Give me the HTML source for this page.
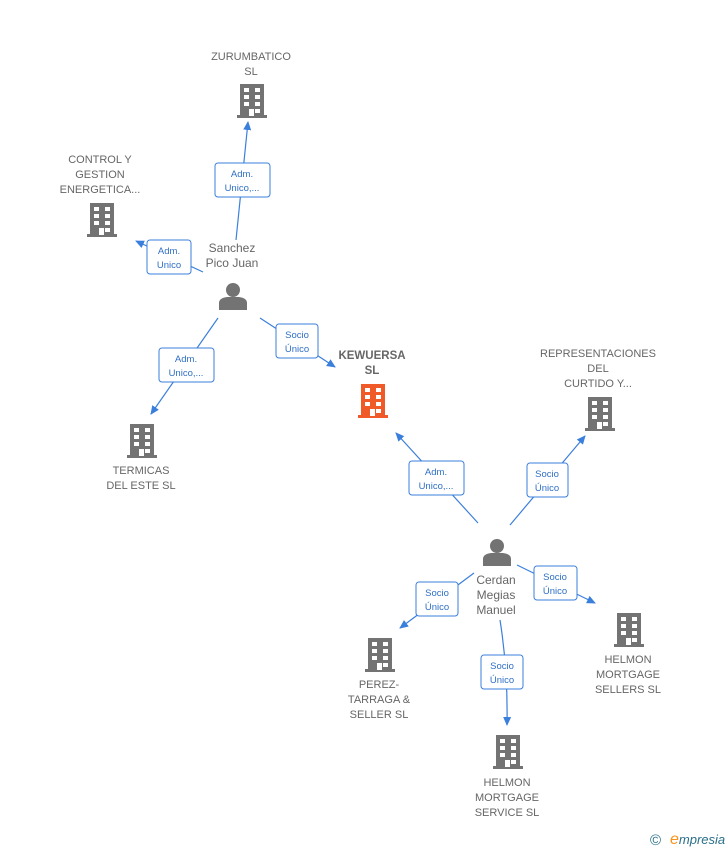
<!DOCTYPE html>
<html><head><meta charset="utf-8"><style>
html,body{margin:0;padding:0;background:#fff;}
svg{display:block;font-family:"Liberation Sans",Arial,sans-serif;}
.n{font-size:11px;fill:#666;text-anchor:middle;}
.nb{font-size:11.5px;fill:#666;text-anchor:middle;font-weight:bold;}
.p{font-size:12px;fill:#666;text-anchor:middle;}
.l{font-size:9.5px;fill:#2f6fc6;text-anchor:middle;}
.e{stroke:#3a7fdc;stroke-width:1.2;fill:none;marker-end:url(#a);}
.b{fill:#fff;stroke:#3a7fdc;stroke-width:1;}
</style></head><body>
<svg width="728" height="850" viewBox="0 0 728 850">
<defs>
<marker id="a" markerWidth="10" markerHeight="10" refX="8" refY="5" orient="auto" markerUnits="userSpaceOnUse"><path d="M0,1 L9,5 L0,9 Z" fill="#3a7fdc"/></marker>
<g id="bld"><rect x="-12" y="-17" width="24" height="32"/><rect x="-15" y="14" width="30" height="3"/>
<g fill="#fff"><rect x="-8" y="-13" width="5" height="4"/><rect x="3" y="-13" width="5" height="4"/><rect x="-8" y="-6" width="5" height="4"/><rect x="3" y="-6" width="5" height="4"/><rect x="-8" y="1" width="5" height="4"/><rect x="3" y="1" width="5" height="4"/><rect x="-3" y="8" width="5" height="7"/><rect x="3" y="8" width="5" height="4"/></g></g>
<g id="per"><circle cx="0" cy="-7" r="7"/><path d="M-14,13 L-14,6 Q-14,1 -6,0 L6,0 Q14,1 14,6 L14,13 Z"/></g>
</defs>
<!-- edges -->
<path class="e" d="M236,240 L248,122"/>
<path class="e" d="M203,272 L136,241"/>
<path class="e" d="M218,318 L151,414"/>
<path class="e" d="M260,318 L335,367"/>
<path class="e" d="M478,523 L396,433"/>
<path class="e" d="M510,525 L585,436"/>
<path class="e" d="M474,573 L400,628"/>
<path class="e" d="M500,620 Q508,670 507,725"/>
<path class="e" d="M517,565 L595,603"/>
<!-- labels -->
<rect class="b" x="215" y="163" width="55" height="34" rx="3"/><text class="l" x="242" y="177">Adm.</text><text class="l" x="242" y="191">Unico,...</text>
<rect class="b" x="147" y="240" width="44" height="34" rx="3"/><text class="l" x="169" y="254">Adm.</text><text class="l" x="169" y="268">Unico</text>
<rect class="b" x="159" y="348" width="55" height="34" rx="3"/><text class="l" x="186" y="362">Adm.</text><text class="l" x="186" y="376">Unico,...</text>
<rect class="b" x="276" y="324" width="42" height="34" rx="3"/><text class="l" x="297" y="338">Socio</text><text class="l" x="297" y="352">Único</text>
<rect class="b" x="409" y="461" width="55" height="34" rx="3"/><text class="l" x="436" y="475">Adm.</text><text class="l" x="436" y="489">Unico,...</text>
<rect class="b" x="527" y="463" width="41" height="34" rx="3"/><text class="l" x="547" y="477">Socio</text><text class="l" x="547" y="491">Único</text>
<rect class="b" x="416" y="582" width="42" height="34" rx="3"/><text class="l" x="437" y="596">Socio</text><text class="l" x="437" y="610">Único</text>
<rect class="b" x="481" y="655" width="42" height="34" rx="3"/><text class="l" x="502" y="669">Socio</text><text class="l" x="502" y="683">Único</text>
<rect class="b" x="534" y="566" width="43" height="34" rx="3"/><text class="l" x="555" y="580">Socio</text><text class="l" x="555" y="594">Único</text>
<!-- nodes -->
<g fill="#737373">
<use href="#bld" x="252" y="101"/><use href="#bld" x="102" y="220"/><use href="#bld" x="142" y="441"/>
<use href="#bld" x="600" y="414"/><use href="#bld" x="380" y="655"/><use href="#bld" x="508" y="752"/><use href="#bld" x="629" y="630"/>
<use href="#per" x="233" y="297"/><use href="#per" x="497" y="553"/>
</g>
<use href="#bld" x="373" y="401" fill="#f05a28"/>
<text class="n" x="251" y="60">ZURUMBATICO</text><text class="n" x="251" y="75">SL</text>
<text class="n" x="100" y="163">CONTROL Y</text><text class="n" x="100" y="178">GESTION</text><text class="n" x="100" y="193">ENERGETICA...</text>
<text class="n" x="141" y="474">TERMICAS</text><text class="n" x="141" y="489">DEL ESTE SL</text>
<text class="nb" x="372" y="359">KEWUERSA</text><text class="nb" x="372" y="374">SL</text>
<text class="n" x="598" y="357">REPRESENTACIONES</text><text class="n" x="598" y="372">DEL</text><text class="n" x="598" y="387">CURTIDO Y...</text>
<text class="n" x="379" y="688">PEREZ-</text><text class="n" x="379" y="703">TARRAGA &amp;</text><text class="n" x="379" y="718">SELLER  SL</text>
<text class="n" x="507" y="786">HELMON</text><text class="n" x="507" y="801">MORTGAGE</text><text class="n" x="507" y="816">SERVICE  SL</text>
<text class="n" x="628" y="663">HELMON</text><text class="n" x="628" y="678">MORTGAGE</text><text class="n" x="628" y="693">SELLERS  SL</text>
<text class="p" x="232" y="252">Sanchez</text><text class="p" x="232" y="267">Pico Juan</text>
<text class="p" x="496" y="584">Cerdan</text><text class="p" x="496" y="599">Megias</text><text class="p" x="496" y="614">Manuel</text>
<text x="650" y="845" font-size="15" fill="#2a6f8a">©</text>
<text x="670" y="844" font-size="13" font-style="italic" fill="#2a6f8a"><tspan fill="#f7941d" font-size="16">e</tspan>mpresia</text>
</svg>
</body></html>
